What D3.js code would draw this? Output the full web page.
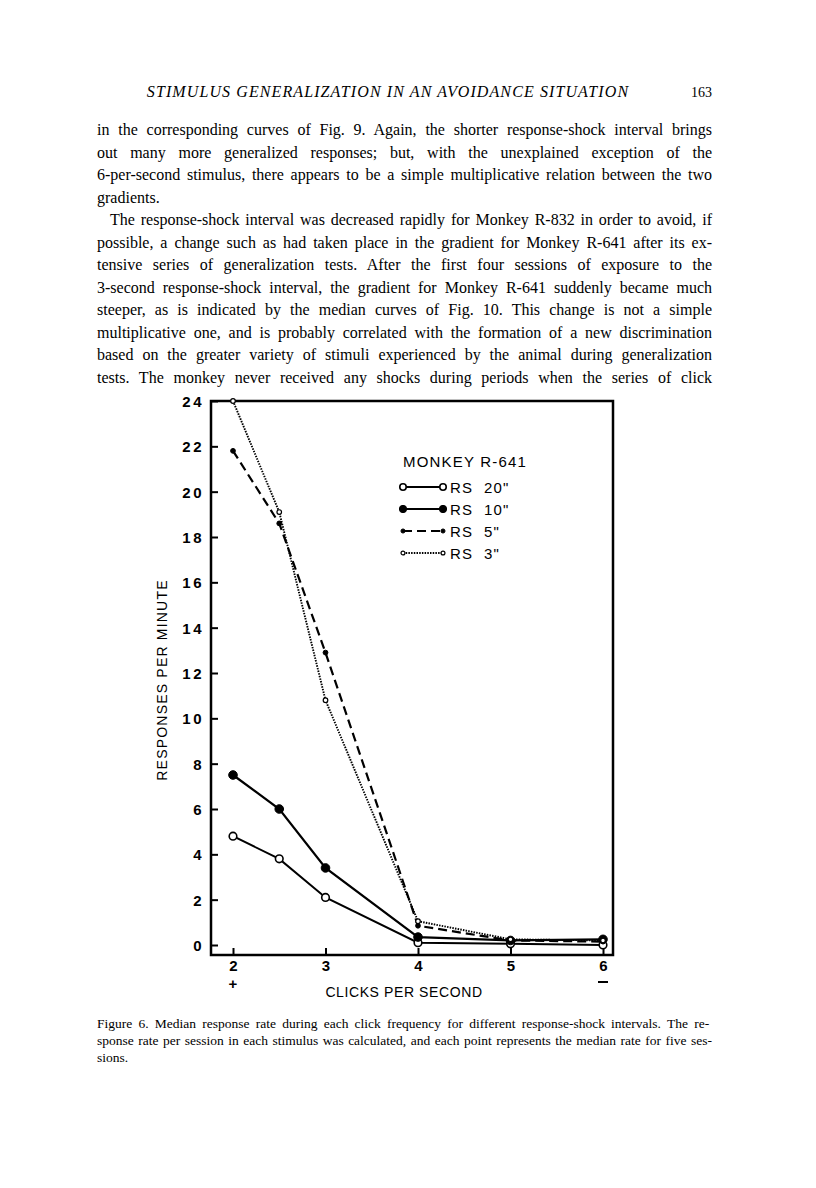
<!DOCTYPE html>
<html>
<head>
<meta charset="utf-8">
<script src="https://cdn.jsdelivr.net/npm/d3@7"></script>
<style>
  body { margin: 0; background: #fff; }
  svg { display: block; }
</style>
</head>
<body>
<svg id="page" width="816" height="1188"></svg>
<script>
// data
var clicks = [2, 2.5, 3, 4, 5, 6];
var rs20 = [4.8, 3.8, 2.1, 0.1, 0.05, 0.0];
var rs10 = [7.5, 6.0, 3.4, 0.35, 0.2, 0.25];
var rs5 = [21.8, 18.6, 12.9, 0.85, 0.2, 0.15];
var rs3 = [24.0, 19.1, 10.8, 1.05, 0.25, 0.2];
var seriesNames = ['RS 20"', 'RS 10"', 'RS 5"', 'RS 3"'];
var yTicks = [0, 2, 4, 6, 8, 10, 12, 14, 16, 18, 20, 22, 24];
var xTicks = [2, 3, 4, 5, 6];

var headerText = "STIMULUS GENERALIZATION IN AN AVOIDANCE SITUATION";
var pageNo = "163";
var bodyLines = [
  ["in the corresponding curves of Fig. 9. Again, the shorter response-shock interval brings", 1, 0],
  ["out many more generalized responses; but, with the unexplained exception of the", 1, 0],
  ["6-per-second stimulus, there appears to be a simple multiplicative relation between the two", 1, 0],
  ["gradients.", 0, 0],
  ["The response-shock interval was decreased rapidly for Monkey R-832 in order to avoid, if", 1, 13],
  ["possible, a change such as had taken place in the gradient for Monkey R-641 after its ex-", 1, 0],
  ["tensive series of generalization tests. After the first four sessions of exposure to the", 1, 0],
  ["3-second response-shock interval, the gradient for Monkey R-641 suddenly became much", 1, 0],
  ["steeper, as is indicated by the median curves of Fig. 10. This change is not a simple", 1, 0],
  ["multiplicative one, and is probably correlated with the formation of a new discrimination", 1, 0],
  ["based on the greater variety of stimuli experienced by the animal during generalization", 1, 0],
  ["tests. The monkey never received any shocks during periods when the series of click", 1, 0]
];
var captionLines = [
  ["Figure  6. Median response rate during each click frequency for different response-shock intervals. The re-", 1],
  ["sponse rate per session in each stimulus was calculated, and each point represents the median rate for five ses-", 1],
  ["sions.", 0]
];

var svg = d3.select("#page");
var textLeft = 97, textRight = 712;

// fit a line to the column width by widening the word gaps
function justify(sel, width) {
    var node = sel.node();
    var natural = node.getComputedTextLength();
    var gaps = (sel.text().match(/ /g) || []).length;
    if (gaps > 0 && natural < width) {
        sel.attr("word-spacing", (width - natural) / gaps);
    }
}

// running head
svg.append("text")
    .attr("x", 388).attr("y", 97)
    .attr("text-anchor", "middle")
    .style("font-family", "Liberation Serif")
    .style("font-style", "italic")
    .style("font-size", "16px")
    .attr("letter-spacing", 1.1)
    .text(headerText);
svg.append("text")
    .attr("x", textRight).attr("y", 97)
    .attr("text-anchor", "end")
    .style("font-family", "Liberation Serif")
    .style("font-size", "14px")
    .text(pageNo);

bodyLines.forEach(function(l, i) {
    var t = svg.append("text")
        .attr("x", textLeft + l[2])
        .attr("y", 135 + i * 22.5)
        .style("font-family", "Liberation Serif")
        .style("font-size", "16px")
        .text(l[0]);
    if (l[1]) justify(t, textRight - textLeft - l[2]);
});

captionLines.forEach(function(l, i) {
    var t = svg.append("text")
        .attr("x", textLeft)
        .attr("y", 1028 + i * 17)
        .style("font-family", "Liberation Serif")
        .style("font-size", "13.5px")
        .text(l[0]);
    if (l[1]) justify(t, textRight - textLeft);
});

// chart
var frame = {left: 211, right: 613, top: 401, bottom: 955};
var x = d3.scaleLinear().domain([2, 6]).range([233, 603]);
var y = d3.scaleLinear().domain([0, 24]).range([945, 401]);

var chart = svg.append("g");
var sansFont = "Liberation Sans";

var yAxis = chart.append("g")
    .attr("transform", "translate(" + frame.left + ",0)")
    .call(d3.axisLeft(y).tickValues(yTicks).tickSizeInner(-7).tickSizeOuter(0).tickPadding(7));
yAxis.select(".domain").remove();
yAxis.selectAll("line").attr("stroke", "#000").attr("stroke-width", 2);
yAxis.selectAll("text")
    .style("font-family", sansFont)
    .style("font-size", "15px")
    .style("font-weight", "bold")
    .attr("letter-spacing", 2.5)
    .attr("dy", "0.36em");

var xAxis = chart.append("g")
    .attr("transform", "translate(0," + frame.bottom + ")")
    .call(d3.axisBottom(x).tickValues(xTicks).tickFormat(d3.format("d"))
        .tickSizeInner(-7).tickSizeOuter(0).tickPadding(5));
xAxis.select(".domain").remove();
xAxis.selectAll("line").attr("stroke", "#000").attr("stroke-width", 2);
xAxis.selectAll("text")
    .style("font-family", sansFont)
    .style("font-size", "15px")
    .style("font-weight", "bold");

// + and - under the end stimuli
chart.append("text")
    .attr("x", x(2)).attr("y", 989)
    .attr("text-anchor", "middle")
    .style("font-family", sansFont).style("font-size", "15px").style("font-weight", "bold")
    .text("+");
chart.append("line")
    .attr("x1", x(6) - 5).attr("x2", x(6) + 5)
    .attr("y1", 982).attr("y2", 982)
    .attr("stroke", "#000").attr("stroke-width", 2);

chart.append("rect")
    .attr("x", frame.left).attr("y", frame.top)
    .attr("width", frame.right - frame.left)
    .attr("height", frame.bottom - frame.top)
    .attr("fill", "none")
    .attr("stroke", "#000")
    .attr("stroke-width", 2.5);

chart.append("text")
    .attr("x", 404).attr("y", 997)
    .attr("text-anchor", "middle")
    .style("font-family", sansFont).style("font-size", "14px")
    .attr("letter-spacing", 0.6)
    .text("CLICKS PER SECOND");

chart.append("text")
    .attr("transform", "translate(167,680) rotate(-90)")
    .attr("text-anchor", "middle")
    .style("font-family", sansFont).style("font-size", "14px")
    .attr("letter-spacing", 1.2)
    .text("RESPONSES PER MINUTE");

var series = [
    {name: seriesNames[0], values: rs20, dash: null, width: 2, r: 3.8, fill: "#fff", sw: 1.6},
    {name: seriesNames[1], values: rs10, dash: null, width: 2.2, r: 4.3, fill: "#000", sw: 1},
    {name: seriesNames[2], values: rs5, dash: "9,5", width: 2.2, r: 2.4, fill: "#000", sw: 1},
    {name: seriesNames[3], values: rs3, dash: "1.5,1.2", width: 1.9, r: 2.3, fill: "#fff", sw: 1.2}
];

var line = d3.line()
    .x(function(d) { return x(d[0]); })
    .y(function(d) { return y(d[1]); });

series.forEach(function(s) {
    var pts = clicks.map(function(c, i) { return [c, s.values[i]]; });
    chart.append("path")
        .datum(pts)
        .attr("d", line)
        .attr("fill", "none")
        .attr("stroke", "#000")
        .attr("stroke-width", s.width)
        .attr("stroke-dasharray", s.dash);
    chart.selectAll(null)
        .data(pts)
        .enter().append("circle")
        .attr("cx", function(d) { return x(d[0]); })
        .attr("cy", function(d) { return y(d[1]); })
        .attr("r", s.r)
        .attr("fill", s.fill)
        .attr("stroke", "#000")
        .attr("stroke-width", s.sw);
});

// legend
var legend = chart.append("g").attr("transform", "translate(403,0)");
legend.append("text")
    .attr("x", 0).attr("y", 467)
    .style("font-family", sansFont).style("font-size", "15px")
    .attr("letter-spacing", 1.2)
    .text("MONKEY R-641");
series.forEach(function(s, i) {
    var ly = 487 + i * 22;
    legend.append("line")
        .attr("x1", 0).attr("x2", 40)
        .attr("y1", ly).attr("y2", ly)
        .attr("stroke", "#000")
        .attr("stroke-width", s.width)
        .attr("stroke-dasharray", s.dash);
    [0, 40].forEach(function(cx) {
        legend.append("circle")
            .attr("cx", cx).attr("cy", ly)
            .attr("r", s.r * 0.85)
            .attr("fill", s.fill)
            .attr("stroke", "#000")
            .attr("stroke-width", s.sw);
    });
    legend.append("text")
        .attr("x", 47).attr("y", ly + 5.5)
        .style("font-family", sansFont).style("font-size", "15px")
        .attr("letter-spacing", 1.2)
        .style("white-space", "pre")
        .text(s.name.replace(" ", "  "));
});
</script>
</body>
</html>
